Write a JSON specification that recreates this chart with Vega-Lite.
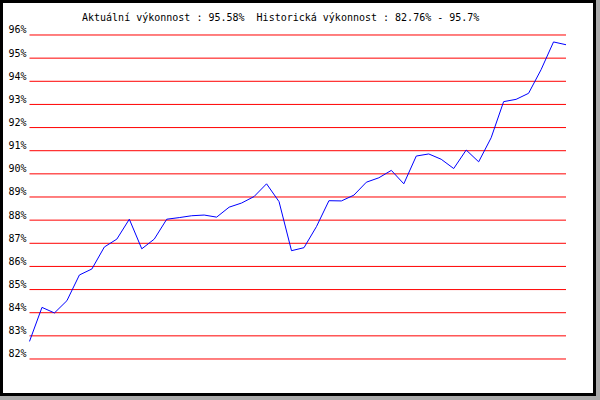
{
  "$schema": "https://vega.github.io/schema/vega-lite/v6.json",
  "width": 593,
  "height": 393,
  "autosize": {"type": "none"},
  "padding": {"left": 1.5, "top": 1.5, "right": 5.5, "bottom": 5.5},
  "background": "#aaaaaa",
  "config": {
    "view": {"fill": "white", "stroke": "black", "strokeWidth": 3},
    "font": "DejaVu Sans Mono"
  },
  "title": {
    "text": "Aktuální výkonnost : 95.58% \u00a0Historická výkonnost : 82.76% - 95.7%",
    "anchor": "start",
    "frame": "group",
    "dx": 80.5,
    "offset": -15.5,
    "dy": 14,
    "baseline": "alphabetic",
    "font": "DejaVu Sans Mono",
    "fontSize": 10,
    "fontWeight": "normal",
    "color": "black"
  },
  "datasets": {
    "perf": [
      {"i": 0, "p": 82.76}, {"i": 1, "p": 84.23}, {"i": 2, "p": 83.99}, {"i": 3, "p": 84.52},
      {"i": 4, "p": 85.63}, {"i": 5, "p": 85.89}, {"i": 6, "p": 86.84}, {"i": 7, "p": 87.18},
      {"i": 8, "p": 88.04}, {"i": 9, "p": 86.76}, {"i": 10, "p": 87.18}, {"i": 11, "p": 88.04},
      {"i": 12, "p": 88.11}, {"i": 13, "p": 88.19}, {"i": 14, "p": 88.22}, {"i": 15, "p": 88.13},
      {"i": 16, "p": 88.56}, {"i": 17, "p": 88.74}, {"i": 18, "p": 89.02}, {"i": 19, "p": 89.57},
      {"i": 20, "p": 88.80}, {"i": 21, "p": 86.68}, {"i": 22, "p": 86.81}, {"i": 23, "p": 87.72},
      {"i": 24, "p": 88.84}, {"i": 25, "p": 88.83}, {"i": 26, "p": 89.08}, {"i": 27, "p": 89.64},
      {"i": 28, "p": 89.83}, {"i": 29, "p": 90.15}, {"i": 30, "p": 89.57}, {"i": 31, "p": 90.77},
      {"i": 32, "p": 90.86}, {"i": 33, "p": 90.63}, {"i": 34, "p": 90.23}, {"i": 35, "p": 91.03},
      {"i": 36, "p": 90.52}, {"i": 37, "p": 91.56}, {"i": 38, "p": 93.12}, {"i": 39, "p": 93.22},
      {"i": 40, "p": 93.48}, {"i": 41, "p": 94.50}, {"i": 42, "p": 95.70}, {"i": 43, "p": 95.58}
    ],
    "grid": [
      {"p": 82}, {"p": 83}, {"p": 84}, {"p": 85}, {"p": 86}, {"p": 87}, {"p": 88},
      {"p": 89}, {"p": 90}, {"p": 91}, {"p": 92}, {"p": 93}, {"p": 94}, {"p": 95}, {"p": 96}
    ]
  },
  "encoding": {
    "y": {
      "field": "p",
      "type": "quantitative",
      "scale": {"domain": [80.466, 97.4475], "nice": false, "zero": false},
      "axis": {
        "orient": "left",
        "values": [82, 83, 84, 85, 86, 87, 88, 89, 90, 91, 92, 93, 94, 95, 96],
        "labelExpr": "datum.value + '%'",
        "domain": false,
        "ticks": false,
        "grid": false,
        "title": null,
        "labelPadding": -24.5,
        "labelAlign": "right",
        "labelBaseline": "alphabetic",
        "labelOffset": -2,
        "labelFont": "DejaVu Sans Mono",
        "labelFontSize": 10,
        "labelColor": "black",
        "labelFlush": false,
        "labelOverlap": false,
        "labelBound": false
      }
    }
  },
  "layer": [
    {
      "data": {"name": "grid"},
      "mark": {"type": "rule", "color": "red", "strokeWidth": 1},
      "encoding": {
        "x": {"datum": 0, "type": "quantitative", "scale": {"domain": [-2.244, 45.284], "nice": false, "zero": false}, "axis": null},
        "x2": {"datum": 43}
      }
    },
    {
      "data": {"name": "perf"},
      "mark": {"type": "line", "color": "#0000ff", "strokeWidth": 1},
      "encoding": {
        "x": {"field": "i", "type": "quantitative", "scale": {"domain": [-2.244, 45.284], "nice": false, "zero": false}, "axis": null}
      }
    }
  ]
}
